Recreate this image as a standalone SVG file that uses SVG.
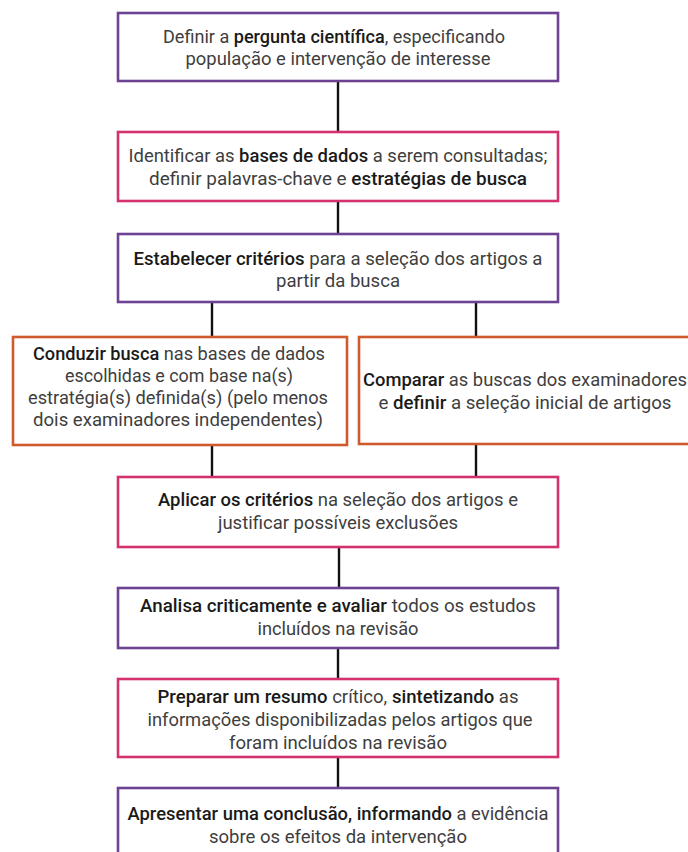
<svg xmlns="http://www.w3.org/2000/svg" width="688" height="852" viewBox="0 0 688 852">
<style>
.box{fill:#fff;stroke-width:2.6}
.pu{stroke:#6d4293}
.pk{stroke:#d4326f}
.or{stroke:#cf5a2e}
.t{font-family:Roboto,"Liberation Sans",sans-serif;font-size:17.5px;fill:#3e3e3e;text-anchor:middle}
.b{font-weight:500;fill:#1a1a1a}
.c{stroke:#111;stroke-width:2.4;fill:none}
</style>
<rect width="688" height="852" fill="#fff"/>
<g id="connectors">
<line class="c" x1="338" y1="81" x2="338" y2="132"/>
<line class="c" x1="338" y1="201" x2="338" y2="234"/>
<line class="c" x1="212" y1="302" x2="212" y2="337"/>
<line class="c" x1="476" y1="302" x2="476" y2="337"/>
<line class="c" x1="212" y1="445" x2="212" y2="477"/>
<line class="c" x1="476" y1="444" x2="476" y2="477"/>
<line class="c" x1="339" y1="547" x2="339" y2="588"/>
<line class="c" x1="338" y1="648" x2="338" y2="679"/>
<line class="c" x1="338" y1="757" x2="338" y2="788"/>
</g>
<g id="n1">
<rect class="box pu" x="118" y="13" width="440" height="68"/>
<text class="t" x="334" y="43" textLength="342" lengthAdjust="spacingAndGlyphs">Definir a <tspan class="b">pergunta científica</tspan>, especificando</text>
<text class="t" x="338" y="65" textLength="305" lengthAdjust="spacingAndGlyphs">população e intervenção de interesse</text>
</g>
<g id="n2">
<rect class="box pk" x="118" y="132" width="440" height="69"/>
<text class="t" x="338" y="162" textLength="419" lengthAdjust="spacingAndGlyphs">Identificar as <tspan class="b">bases de dados</tspan> a serem consultadas;</text>
<text class="t" x="338" y="185" textLength="378" lengthAdjust="spacingAndGlyphs">definir palavras-chave e <tspan class="b">estratégias de busca</tspan></text>
</g>
<g id="n3">
<rect class="box pu" x="118" y="234" width="440" height="68"/>
<text class="t" x="338" y="265" textLength="409" lengthAdjust="spacingAndGlyphs"><tspan class="b">Estabelecer critérios</tspan> para a seleção dos artigos a</text>
<text class="t" x="338" y="287" textLength="124" lengthAdjust="spacingAndGlyphs">partir da busca</text>
</g>
<g id="n4">
<rect class="box or" x="13" y="337" width="334" height="108"/>
<text class="t" x="179" y="360" textLength="292" lengthAdjust="spacingAndGlyphs"><tspan class="b">Conduzir busca</tspan> nas bases de dados</text>
<text class="t" x="179" y="382" textLength="228" lengthAdjust="spacingAndGlyphs">escolhidas e com base na(s)</text>
<text class="t" x="178" y="404" textLength="300" lengthAdjust="spacingAndGlyphs">estratégia(s) definida(s) (pelo menos</text>
<text class="t" x="178" y="426" textLength="290" lengthAdjust="spacingAndGlyphs">dois examinadores independentes)</text>
</g>
<g id="n5">
<rect class="box or" x="359" y="337" width="334" height="107"/>
<text class="t" x="525" y="386" textLength="324" lengthAdjust="spacingAndGlyphs"><tspan class="b">Comparar</tspan> as buscas dos examinadores</text>
<text class="t" x="525" y="409" textLength="293" lengthAdjust="spacingAndGlyphs">e <tspan class="b">definir</tspan> a seleção inicial de artigos</text>
</g>
<g id="n6">
<rect class="box pk" x="118" y="477" width="440" height="70"/>
<text class="t" x="338" y="506" textLength="360" lengthAdjust="spacingAndGlyphs"><tspan class="b">Aplicar os critérios</tspan> na seleção dos artigos e</text>
<text class="t" x="338" y="529" textLength="240" lengthAdjust="spacingAndGlyphs">justificar possíveis exclusões</text>
</g>
<g id="n7">
<rect class="box pu" x="118" y="588" width="440" height="60"/>
<text class="t" x="338" y="612" textLength="396" lengthAdjust="spacingAndGlyphs"><tspan class="b">Analisa criticamente e avaliar</tspan> todos os estudos</text>
<text class="t" x="338" y="635" textLength="161" lengthAdjust="spacingAndGlyphs">incluídos na revisão</text>
</g>
<g id="n8">
<rect class="box pk" x="118" y="679" width="440" height="78"/>
<text class="t" x="338" y="703" textLength="361" lengthAdjust="spacingAndGlyphs"><tspan class="b">Preparar um resumo</tspan> crítico, <tspan class="b">sintetizando</tspan> as</text>
<text class="t" x="340" y="726" textLength="385" lengthAdjust="spacingAndGlyphs">informações disponibilizadas pelos artigos que</text>
<text class="t" x="338" y="749" textLength="218" lengthAdjust="spacingAndGlyphs">foram incluídos na revisão</text>
</g>
<g id="n9">
<rect class="box pu" x="118" y="788" width="440" height="80"/>
<text class="t" x="338" y="820" textLength="421" lengthAdjust="spacingAndGlyphs"><tspan class="b">Apresentar uma conclusão, informando</tspan> a evidência</text>
<text class="t" x="338" y="843" textLength="258" lengthAdjust="spacingAndGlyphs">sobre os efeitos da intervenção</text>
</g>
</svg>
